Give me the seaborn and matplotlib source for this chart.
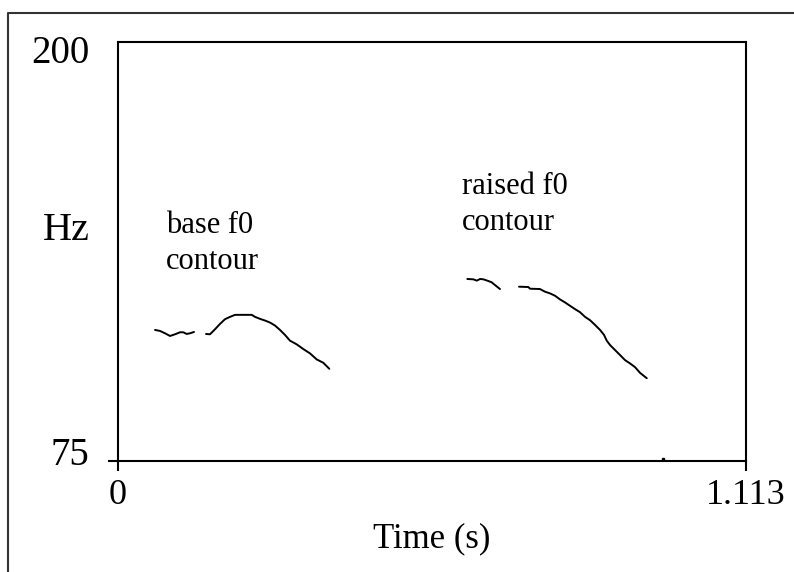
import numpy as np
import pandas as pd
import matplotlib
matplotlib.use("Agg")
import matplotlib.pyplot as plt
import matplotlib.transforms as mtransforms
from matplotlib.lines import Line2D
import seaborn as sns

# ---- data ----
base_a_t = [0.0665, 0.0753, 0.0842, 0.0931, 0.1019, 0.1108, 0.1166, 0.1227, 0.1285, 0.1356]
base_a_f = [114.1, 113.8, 113.1, 112.3, 112.8, 113.4, 113.4, 112.9, 113.1, 113.5]

base_b_t = [0.1569, 0.1639, 0.1728, 0.1817, 0.1905, 0.1994, 0.2083, 0.2224, 0.2379, 0.2437,
            0.2526, 0.2615, 0.2703, 0.2792, 0.2880, 0.2969, 0.3057, 0.3176, 0.3293, 0.3412,
            0.3531, 0.3648, 0.3754]
base_b_f = [112.9, 112.8, 114.3, 115.9, 117.3, 118.0, 118.6, 118.6, 118.6, 118.0,
            117.4, 116.9, 116.3, 115.4, 114.1, 112.6, 110.9, 109.8, 108.4, 107.1,
            105.3, 104.3, 102.5]

raised_a_t = [0.6200, 0.6306, 0.6367, 0.6425, 0.6484, 0.6572, 0.6632, 0.6690, 0.6779]
raised_a_f = [129.3, 129.2, 128.8, 129.3, 129.2, 128.7, 128.3, 127.5, 126.3]

raised_b_t = [0.7116, 0.7281, 0.7311, 0.7488, 0.7577, 0.7666, 0.7754, 0.7843, 0.7932, 0.8020,
              0.8109, 0.8197, 0.8286, 0.8375, 0.8463, 0.8552, 0.8623, 0.8671, 0.8729, 0.8818,
              0.8907, 0.8995, 0.9084, 0.9172, 0.9261, 0.9380]
raised_b_f = [127.0, 126.9, 126.4, 126.3, 125.5, 125.0, 124.3, 123.2, 122.3, 121.3,
              120.3, 119.4, 118.0, 117.0, 115.6, 114.1, 112.6, 110.9, 109.6, 108.1,
              106.6, 105.1, 104.1, 103.0, 101.3, 99.7]

stray_t = [0.9669]
stray_f = [75.6]

x_ticks = [0, 1.113]
x_tick_labels = ["0", "1.113"]
y_ticks = [75, 200]
y_tick_labels = ["75", "200"]

segments = [
    ("base_a", base_a_t, base_a_f),
    ("base_b", base_b_t, base_b_f),
    ("raised_a", raised_a_t, raised_a_f),
    ("raised_b", raised_b_t, raised_b_f),
]
df = pd.concat(
    [pd.DataFrame({"t": t, "f": f, "seg": name}) for name, t, f in segments],
    ignore_index=True,
)

# ---- figure ----
sns.set_theme(style="white")
plt.rcParams["font.family"] = ["Liberation Serif", "DejaVu Serif"]
plt.rcParams["text.color"] = "black"

W, H = 794, 572
fig = plt.figure(figsize=(W / 100, H / 100), dpi=100)
ax = fig.add_axes([117.5 / W, 1 - 461 / H, 628 / W, 419 / H])

sns.lineplot(data=df, x="t", y="f", units="seg", estimator=None,
             color="black", linewidth=1.4, ax=ax, legend=False)
ax.plot(stray_t, stray_f, marker="s", markersize=2, color="black", linestyle="none")

ax.set_xlim(0, 1.113)
ax.set_ylim(75, 200)

for s in ax.spines.values():
    s.set_visible(True)
    s.set_color("black")
    s.set_linewidth(1.5)

ax.set_xticks(x_ticks)
ax.set_xticklabels(x_tick_labels)
ax.set_yticks(y_ticks)
ax.set_yticklabels(y_tick_labels)
ax.tick_params(axis="x", direction="out", length=7.2, width=1.5, color="black",
               labelcolor="black", labelsize=26, pad=6, bottom=True)
ax.tick_params(axis="y", direction="out", length=7.2, width=1.5, color="black",
               labelcolor="black", labelsize=28, pad=13, left=True)
# the 200 tick has no tick mark in the reference
ax.yaxis.get_major_ticks()[1].tick1line.set_visible(False)

# nudge y tick labels inward as in the reference
ylabs = ax.get_yticklabels()
ylabs[0].set_transform(ylabs[0].get_transform() +
                       mtransforms.ScaledTranslation(0, 7.5 / 72, fig.dpi_scale_trans))
ylabs[1].set_transform(ylabs[1].get_transform() +
                       mtransforms.ScaledTranslation(0, -5 / 72, fig.dpi_scale_trans))

ax.set_xlabel("Time (s)", fontsize=25, color="black")
ax.xaxis.set_label_coords(0.5, -0.146)
ax.set_ylabel("Hz", fontsize=29, rotation=0, ha="right", va="center", color="black")
ax.yaxis.set_label_coords(-0.044, 0.55)

ax.text(0.086, 149.5, "base f0\ncontour", fontsize=22, ha="left", va="top",
        linespacing=1.3, color="black")
ax.text(0.6106, 161.1, "raised f0\ncontour", fontsize=22, ha="left", va="top",
        linespacing=1.3, color="black")

# outer frame (top and left edges only)
fig.add_artist(Line2D([8 / W, 8 / W, 1], [0, 1 - 13 / H, 1 - 13 / H],
                      transform=fig.transFigure, color="#333333", linewidth=1.5))

fig.savefig("out.png", dpi=100)
